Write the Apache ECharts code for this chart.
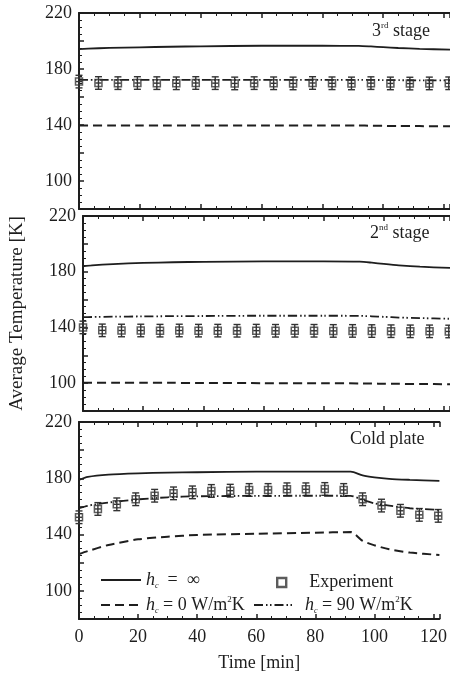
<!DOCTYPE html>
<html>
<head>
<meta charset="utf-8">
<script src="https://cdn.jsdelivr.net/npm/echarts@6/dist/echarts.min.js"></script>
<style>
  html, body { margin: 0; padding: 0; background: #fff; }
  #chart { width: 450px; height: 673px; }
</style>
</head>
<body>
<div id="chart"></div>
<script>
// simulated curves share one time grid [min]
const simTime = [0, 3, 10, 20, 30, 40, 60, 80, 92, 96, 100, 105, 112, 122]
// experiment sampling times [min]
const expTime = [0, 6.4, 12.8, 19.2, 25.6, 32, 38.4, 44.8, 51.2, 57.6, 64, 70.4, 76.8, 83.2, 89.6, 96, 102.4, 108.8, 115.2, 121.6]
const expErr = 4.5

// 3rd stage
const stage3Inf = [194.2, 194.5, 195.1, 195.5, 195.9, 196.2, 196.6, 196.6, 196.5, 196.1, 195.6, 195.0, 194.4, 193.8]
const stage3Zero = [139.6, 139.6, 139.6, 139.6, 139.6, 139.6, 139.6, 139.6, 139.6, 139.5, 139.4, 139.3, 139.2, 139.1]
const stage3Ninety = [172.3, 172.3, 172.3, 172.3, 172.3, 172.3, 172.3, 172.3, 172.3, 172.2, 172.1, 172.0, 171.9, 171.8]
const stage3Exp = [171.0, 170.0, 169.9, 170.0, 169.9, 169.8, 170.0, 169.9, 169.7, 169.9, 169.8, 169.7, 170.0, 169.8, 169.7, 169.9, 169.7, 169.6, 169.7, 169.8]

// 2nd stage
const stage2Inf = [183.9, 184.6, 185.5, 186.3, 186.8, 187.1, 187.4, 187.4, 187.2, 186.5, 185.6, 184.6, 183.6, 182.7]
const stage2Zero = [100.3, 100.3, 100.3, 100.2, 100.2, 100.1, 100.0, 99.9, 99.8, 99.7, 99.6, 99.5, 99.4, 99.2]
const stage2Ninety = [147.4, 147.5, 147.7, 147.9, 148.1, 148.2, 148.4, 148.4, 148.3, 148.0, 147.6, 147.1, 146.7, 146.2]
const stage2Exp = [140.0, 137.9, 137.8, 137.8, 137.7, 137.8, 137.7, 137.7, 137.6, 137.7, 137.6, 137.6, 137.6, 137.5, 137.5, 137.4, 137.3, 137.2, 137.2, 137.1]

// cold plate
const coldInf = [178.8, 181.0, 182.6, 183.5, 184.0, 184.3, 184.7, 184.8, 184.8, 182.0, 180.6, 179.6, 178.9, 178.1]
const coldZero = [126.2, 128.3, 132.6, 136.6, 138.5, 139.7, 140.6, 141.3, 141.8, 135.5, 132.4, 129.5, 127.2, 125.5]
const coldNinety = [158.7, 160.5, 162.8, 165.0, 166.5, 167.2, 167.5, 167.6, 167.5, 164.6, 162.2, 160.6, 158.7, 157.5]
const coldExp = [152.3, 158.2, 161.5, 165.1, 167.6, 169.3, 170.0, 171.0, 171.2, 171.7, 171.7, 172.2, 172.2, 172.4, 171.7, 165.1, 160.6, 156.9, 154.0, 153.3]

const yTicks = [100, 140, 180, 220]
const xTicks = [0, 20, 40, 60, 80, 100, 120]

const panels = [
  { label: '{n|3}{s|rd} stage', inf: stage3Inf, zero: stage3Zero, ninety: stage3Ninety, exp: stage3Exp },
  { label: '{n|2}{s|nd} stage', inf: stage2Inf, zero: stage2Zero, ninety: stage2Ninety, exp: stage2Exp },
  { label: 'Cold plate', inf: coldInf, zero: coldZero, ninety: coldNinety, exp: coldExp }
]

const FONT = 'Liberation Serif'
const INK = '#1e1e1e'
const DASH = [9, 5]
const DASHDOT = [9, 3, 1.5, 2.5, 1.5, 3]

const gridTops = [13, 216, 422]
const gridHeights = [196, 195, 197]

const pair = (xs, ys) => xs.map((x, i) => [x, ys[i]])

const chart = echarts.init(document.getElementById('chart'))

const grid = gridTops.map((top, i) => ({ left: 79, top: top, width: 372, height: gridHeights[i] }))

const tickStyle = {
  axisTick: { show: true, inside: true, length: 5, lineStyle: { color: INK, width: 1.5 } },
  minorTick: { show: true, splitNumber: 4, length: 3, lineStyle: { color: INK, width: 1 } },
  splitLine: { show: false },
  axisLine: { show: true, onZero: false, lineStyle: { color: INK, width: 2 } }
}

const xAxis = []
const yAxis = []
panels.forEach((p, i) => {
  xAxis.push(Object.assign({
    type: 'value', gridIndex: i, position: 'bottom', min: 0, max: 122, interval: 20,
    axisLabel: {
      show: i === 2, margin: 9, color: INK, fontFamily: FONT, fontSize: 18,
      formatter: v => xTicks.includes(v) ? String(v) : ''
    },
    name: i === 2 ? 'Time [min]' : '',
    nameLocation: 'middle', nameGap: 35,
    nameTextStyle: { color: INK, fontFamily: FONT, fontSize: 18 }
  }, tickStyle))
  xAxis.push(Object.assign({
    type: 'value', gridIndex: i, position: 'top', min: 0, max: 122, interval: 20,
    axisLabel: { show: false }
  }, tickStyle))
  yAxis.push(Object.assign({
    type: 'value', gridIndex: i, min: 80, max: 220, interval: 20,
    axisLabel: {
      margin: 7, color: INK, fontFamily: FONT, fontSize: 18,
      formatter: v => yTicks.includes(v) ? String(v) : ''
    },
    name: i === 1 ? 'Average Temperature [K]' : '',
    nameLocation: 'middle', nameGap: 56, nameRotate: 90,
    nameTextStyle: { color: INK, fontFamily: FONT, fontSize: 19 }
  }, tickStyle))
})

const series = []
panels.forEach((p, i) => {
  const ax = { xAxisIndex: i * 2, yAxisIndex: i }
  series.push(Object.assign({
    name: 'inf', type: 'line', data: pair(simTime, p.inf), symbol: 'none', smooth: 0.25,
    lineStyle: { color: INK, width: 1.8, type: 'solid' }, itemStyle: { color: INK }
  }, ax))
  series.push(Object.assign({
    name: 'zero', type: 'line', data: pair(simTime, p.zero), symbol: 'none', smooth: 0.25,
    lineStyle: { color: INK, width: 2, type: DASH }, itemStyle: { color: INK }
  }, ax))
  series.push(Object.assign({
    name: 'ninety', type: 'line', data: pair(simTime, p.ninety), symbol: 'none', smooth: 0.25,
    lineStyle: { color: INK, width: 1.8, type: DASHDOT }, itemStyle: { color: INK }
  }, ax))
  // error bars
  series.push(Object.assign({
    type: 'custom', clip: false, z: 3,
    data: expTime.map((t, k) => [t, p.exp[k], expErr]),
    renderItem: (params, api) => {
      const x = api.value(0)
      const y = api.value(1)
      const e = api.value(2)
      const hi = api.coord([x, y + e])
      const lo = api.coord([x, y - e])
      const mid = api.coord([x, y])
      const st = { stroke: '#333', lineWidth: 1.4 }
      return {
        type: 'group',
        children: [
          { type: 'line', shape: { x1: hi[0], y1: hi[1], x2: lo[0], y2: lo[1] }, style: st },
          { type: 'line', shape: { x1: hi[0] - 3.5, y1: hi[1], x2: hi[0] + 3.5, y2: hi[1] }, style: st },
          { type: 'line', shape: { x1: lo[0] - 3.5, y1: lo[1], x2: lo[0] + 3.5, y2: lo[1] }, style: st },
          { type: 'line', shape: { x1: mid[0] - 3, y1: mid[1], x2: mid[0] + 3, y2: mid[1] }, style: st }
        ]
      }
    }
  }, ax))
  series.push(Object.assign({
    name: 'exp', type: 'scatter', clip: false, z: 4, data: pair(expTime, p.exp),
    symbol: 'rect', symbolSize: 7,
    itemStyle: { color: 'rgba(255,255,255,0)', borderColor: '#333', borderWidth: 1.5 }
  }, ax))
})

const rich = {
  h: { fontFamily: FONT, fontSize: 18, fontStyle: 'italic', color: INK, lineHeight: 20 },
  c: { fontFamily: FONT, fontSize: 8, fontStyle: 'italic', color: INK, lineHeight: 8, verticalAlign: 'bottom' },
  t: { fontFamily: FONT, fontSize: 18, color: INK, lineHeight: 20 },
  p: { fontFamily: FONT, fontSize: 9, color: INK, lineHeight: 9, verticalAlign: 'top' }
}
const legendText = {
  inf: '{h|h}{c|c}{t|  =  ∞}',
  zero: '{h|h}{c|c}{t| = 0 W/m}{p|2}{t|K}',
  ninety: '{h|h}{c|c}{t| = 90 W/m}{p|2}{t|K}',
  exp: '{t|Experiment}'
}
const makeLegend = (name, left, mid, w, h, pad) => ({
  data: [name], left: left, top: mid - h / 2, padding: 0,
  itemWidth: w, itemHeight: h, selectedMode: false,
  // hide the marker dot on line icons, keep the line
  itemStyle: { color: 'rgba(0,0,0,0)', borderColor: 'rgba(0,0,0,0)', borderWidth: 0 },
  formatter: n => legendText[n],
  textStyle: { color: INK, fontFamily: FONT, fontSize: 18, rich: rich, padding: [0, 0, 0, pad] }
})
const expLegend = makeLegend('exp', 276, 578, 9, 9, 18)
expLegend.itemStyle = { color: '#fff', borderColor: '#333', borderWidth: 2.4 }

const titleStyle = {
  color: INK, fontFamily: FONT, fontSize: 18, fontWeight: 'normal',
  rich: {
    n: { fontFamily: FONT, fontSize: 18, color: INK, lineHeight: 20 },
    s: { fontFamily: FONT, fontSize: 9, color: INK, lineHeight: 9, verticalAlign: 'top' }
  }
}

const option = {
  animation: false,
  title: [
    { text: panels[0].label, left: 372, top: 21, padding: 0, textStyle: titleStyle },
    { text: panels[1].label, left: 370, top: 223, padding: 0, textStyle: titleStyle },
    { text: panels[2].label, left: 350, top: 430, padding: 0, textStyle: titleStyle }
  ],
  legend: [
    makeLegend('inf', 100, 578, 40, 14, 0),
    expLegend,
    makeLegend('zero', 100, 602, 40, 14, 0),
    makeLegend('ninety', 253, 602, 40, 14, 6)
  ],
  grid: grid,
  xAxis: xAxis,
  yAxis: yAxis,
  series: series
}
chart.setOption(option)
</script>
</body>
</html>
